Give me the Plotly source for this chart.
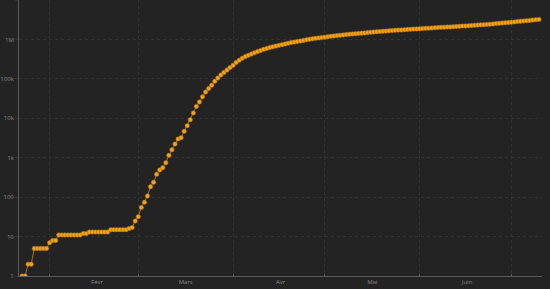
import pandas as pd
import plotly.graph_objects as go

start_date = "2020-01-23"
cases = [
    1, 1, 2, 2, 5, 5, 5, 5, 5,                      # Jan 23-31
    7, 8, 8, 11, 11, 11, 11, 11, 11, 11, 11, 12, 12,  # Feb 1-13
    13, 13, 13, 13, 13, 13, 13, 15, 15, 15, 15, 15, 15, 16, 17, 25,  # Feb 14-29
    32, 55, 74, 107, 184, 237, 380, 490, 560, 750,   # Mar 1-10
    1147, 1586, 2219, 2978, 3212, 4679, 6512, 9169, 13663, 20030,  # Mar 11-20
    26025, 34944, 46096, 56714, 68841, 86662, 105253, 125531, 145579, 167053, 193353,  # Mar 21-31
    220295, 260807, 296236, 335405, 366722, 397161, 428344, 459130, 491601, 526048,  # Apr 1-10
    560142, 592082, 621536, 649100, 677149, 706767, 737520, 770400, 800700, 829800,  # Apr 11-20
    857500, 883800, 911600, 944700, 980000, 1014000, 1040000, 1064000, 1088000, 1114000,  # Apr 21-30
    1143000, 1172000, 1199000, 1225000, 1249000, 1273000, 1298000, 1327000, 1355000, 1381000,  # May 1-10
    1402000, 1421000, 1443000, 1465000, 1492000, 1517000, 1542000, 1561000, 1583000, 1604000,  # May 11-20
    1626000, 1654000, 1678000, 1700000, 1722000, 1741000, 1761000, 1780000, 1802000, 1826000, 1850000,  # May 21-31
    1870000, 1890000, 1911000, 1933000, 1955000, 1979000, 2004000, 2022000, 2041000, 2059000,  # Jun 1-10
    2081000, 2104000, 2129000, 2154000, 2180000, 2199000, 2224000, 2250000, 2278000, 2311000,  # Jun 11-20
    2343000, 2372000, 2403000, 2440000, 2478000, 2519000, 2563000, 2607000, 2646000, 2687000,  # Jun 21-30
    2734000, 2786000, 2842000, 2899000, 2945000, 2994000, 3041000, 3103000, 3163000, 3223000,  # Jul 1-10
]
dates = pd.date_range(start_date, periods=len(cases), freq="D")

y_tickvals = [1, 10, 100, 1000, 10000, 100000, 1000000, 10000000]
y_ticktext = ["1", "10", "100", "1k", "10k", "100k", "1M", "10M"]

month_starts = ["2020-02-01", "2020-03-01", "2020-04-01", "2020-05-01", "2020-06-01", "2020-07-01"]
month_label_pos = ["2020-02-16 12:00", "2020-03-16 12:00", "2020-04-16 12:00", "2020-05-16 12:00", "2020-06-16 12:00"]
month_labels = ["Févr", "Mars", "Avr", "Mai", "Juin"]

bg = "#232323"
grid = "#343434"
axis_col = "#5a5a5a"
font_col = "#8a8a8a"

fig = go.Figure()
fig.add_trace(go.Scatter(
    x=dates, y=cases, mode="lines+markers",
    line=dict(color="#a8741c", width=1),
    marker=dict(color="#f4a21c", size=4.5, line=dict(color="#9a6410", width=0.5)),
    hoverinfo="x+y",
))

fig.update_layout(
    width=550, height=289,
    margin=dict(l=17, r=8, t=0, b=13),
    paper_bgcolor=bg, plot_bgcolor=bg,
    showlegend=False,
    font=dict(family="Open Sans", size=6, color=font_col),
    xaxis=dict(
        type="date",
        range=["2020-01-22", "2020-07-11"],
        tickmode="array", tickvals=month_label_pos, ticktext=month_labels,
        showgrid=False, ticks="",
        showline=True, linecolor=axis_col, linewidth=1,
        zeroline=False,
        minor=dict(tickmode="array", tickvals=month_starts, showgrid=True,
                   gridcolor=grid, griddash="dot", gridwidth=1,
                   ticks="inside", ticklen=2, tickcolor=axis_col),
        tickfont=dict(size=6, color=font_col),
    ),
    yaxis=dict(
        type="log", range=[0, 7],
        tickmode="array", tickvals=y_tickvals, ticktext=y_ticktext,
        showgrid=True, gridcolor=grid, griddash="dot", gridwidth=1,
        ticks="outside", ticklen=3, tickcolor=grid,
        showline=True, linecolor=axis_col, linewidth=1,
        zeroline=False,
        tickfont=dict(size=6, color=font_col),
    ),
)

fig.write_html("out.html")
